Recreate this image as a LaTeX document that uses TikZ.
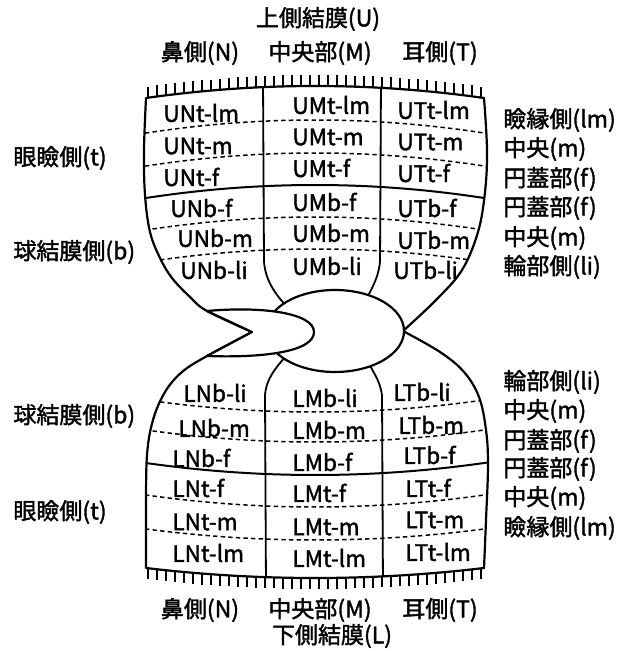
\documentclass[tikz,border=0pt]{standalone}
\usepackage{fontspec}
\setmainfont{Noto Sans CJK JP}[FakeBold=1.6]
\usetikzlibrary{shapes.geometric}
\begin{document}
\begin{tikzpicture}[x=0.5pt,y=-0.5pt,
  rim/.style={line width=1.1pt,line join=round},
  fold/.style={line width=1pt},
  seam/.style={line width=0.75pt,dash pattern=on 2.2pt off 1.6pt},
  divider/.style={line width=0.9pt},
  hair/.style={line width=0.6pt},
  cell/.style={anchor=west,inner sep=0pt,font=\fontsize{11.3pt}{13pt}\selectfont},
  side/.style={anchor=west,inner sep=0pt,font=\fontsize{11.5pt}{13pt}\selectfont},
  head/.style={inner sep=0pt,font=\fontsize{11.5pt}{13pt}\selectfont}]
\useasboundingbox[fill=white] (0,0) rectangle (638,651);

% outlines of the upper and lower conjunctival sacs
\def\upperrim{plot[domain=146:484,samples=60] (\x,{86+12*((\x-315)/169)^2})
  -- plot[smooth,tension=0.6] coordinates {(484,98) (487,150) (485,192) (478,232) (462,270) (436,300) (403,331)}
  -- plot[smooth,tension=0.6] coordinates {(252,332) (207,311) (190,297) (172,278) (160,258) (150,232) (145,195) (144,150) (146,98)}
  -- cycle}
\def\lowerrim{plot[smooth,tension=0.6] coordinates {(252,332) (207,356) (182,372) (165,392) (153,420) (147,455) (146,510) (146,568)}
  -- plot[domain=146:484,samples=60] (\x,{578-10*((\x-315)/169)^2})
  -- plot[smooth,tension=0.6] coordinates {(484,568) (486,520) (488,465) (486,430) (479,397) (464,372) (440,352) (403,331)}
  -- cycle}

% upper zones
\begin{scope}
  \clip \upperrim;
  \draw[seam] plot[domain=130:500,samples=40] (\x,{120+13*((\x-315)/169)^2});
  \draw[seam] plot[domain=130:500,samples=40] (\x,{153+13*((\x-315)/169)^2});
  \draw[fold] plot[domain=130:500,samples=40] (\x,{185+13*((\x-315)/169)^2});
  \draw[seam] plot[domain=130:500,samples=40] (\x,{217+13*((\x-315)/169)^2});
  \draw[seam] plot[domain=130:500,samples=40] (\x,{249+13*((\x-315)/169)^2});
  \draw[divider] (263,80) -- (264,262) .. controls (266,285) and (280,300) .. (295,315);
  \draw[divider] (381,80) -- (380,262) .. controls (378,280) and (370,292) .. (360,310);
\end{scope}
\draw[rim] \upperrim;

% lower zones
\begin{scope}
  \clip \lowerrim;
  \draw[seam] plot[domain=130:500,samples=40] (\x,{412-12*((\x-315)/169)^2});
  \draw[seam] plot[domain=130:500,samples=40] (\x,{442-12*((\x-315)/169)^2});
  \draw[fold] plot[domain=130:500,samples=40] (\x,{475-12*((\x-315)/169)^2});
  \draw[seam] plot[domain=130:500,samples=40] (\x,{507-12*((\x-315)/169)^2});
  \draw[seam] plot[domain=130:500,samples=40] (\x,{540-11*((\x-315)/169)^2});
  \draw[divider] (266,590) -- (265,395) .. controls (266,380) and (275,367) .. (292,350);
  \draw[divider] (383,590) -- (382,395) .. controls (380,380) and (372,370) .. (362,352);
\end{scope}
\draw[rim] \lowerrim;

% lid margin hatching
\foreach \t in {148,157,...,481}
  \draw[hair] (\t,{86+12*((\t-315)/169)^2}) -- ++(0,-11);
\foreach \t in {148,157,...,481}
  \draw[hair] (\t,{578-10*((\t-315)/169)^2}) -- ++(0,11);

% cornea and caruncle
\node[rim,draw,fill=white,ellipse,minimum width=69pt,minimum height=41pt,inner sep=0pt] (cornea) at (335,331) {};
\draw[rim,fill=white] (207,311) .. controls (262,306) and (314,313) .. (314,332)
  .. controls (314,352) and (262,358) .. (207,356) -- (252,332) -- cycle;

% upper zone labels
\node[cell] (UNtlm) at (163,113) {UNt-lm};
\node[cell] (UNtm)  at (163,146) {UNt-m};
\node[cell] (UNtf)  at (163,177) {UNt-f};
\node[cell] (UNbf)  at (170,208) {UNb-f};
\node[cell] (UNbm)  at (177,238) {UNb-m};
\node[cell] (UNbli) at (180,270) {UNb-li};
\node[cell] (UMtlm) at (292,105) {UMt-lm};
\node[cell] (UMtm)  at (292,137) {UMt-m};
\node[cell] (UMtf)  at (292,168) {UMt-f};
\node[cell] (UMbf)  at (292,202) {UMb-f};
\node[cell] (UMbm)  at (292,233) {UMb-m};
\node[cell] (UMbli) at (292,266) {UMb-li};
\node[cell] (UTtlm) at (397,110) {UTt-lm};
\node[cell] (UTtm)  at (397,142) {UTt-m};
\node[cell] (UTtf)  at (397,173) {UTt-f};
\node[cell] (UTbf)  at (397,208) {UTb-f};
\node[cell] (UTbm)  at (397,240) {UTb-m};
\node[cell] (UTbli) at (393,270) {UTb-li};

% lower zone labels
\node[cell] (LNbli) at (183,393) {LNb-li};
\node[cell] (LNbm)  at (178,428) {LNb-m};
\node[cell] (LNbf)  at (172,458) {LNb-f};
\node[cell] (LNtf)  at (172,488) {LNt-f};
\node[cell] (LNtm)  at (172,522) {LNt-m};
\node[cell] (LNtlm) at (172,553) {LNt-lm};
\node[cell] (LMbli) at (292,398) {LMb-li};
\node[cell] (LMbm)  at (292,430) {LMb-m};
\node[cell] (LMbf)  at (292,462) {LMb-f};
\node[cell] (LMtf)  at (292,493) {LMt-f};
\node[cell] (LMtm)  at (292,527) {LMt-m};
\node[cell] (LMtlm) at (292,558) {LMt-lm};
\node[cell] (LTbli) at (393,392) {LTb-li};
\node[cell] (LTbm)  at (398,425) {LTb-m};
\node[cell] (LTbf)  at (403,455) {LTb-f};
\node[cell] (LTtf)  at (405,488) {LTt-f};
\node[cell] (LTtm)  at (405,520) {LTt-m};
\node[cell] (LTtlm) at (405,552) {LTt-lm};

% left side labels
\node[side] (sideUt) at (13,158) {眼瞼側(t)};
\node[side] (sideUb) at (13,252) {球結膜側(b)};
\node[side] (sideLb) at (13,416) {球結膜側(b)};
\node[side] (sideLt) at (13,512) {眼瞼側(t)};

% right side labels
\node[side] (rU1) at (503,120) {瞼縁側(lm)};
\node[side] (rU2) at (503,149) {中央(m)};
\node[side] (rU3) at (503,179) {円蓋部(f)};
\node[side] (rU4) at (503,208) {円蓋部(f)};
\node[side] (rU5) at (503,238) {中央(m)};
\node[side] (rU6) at (503,267) {輪部側(li)};
\node[side] (rL1) at (503,382) {輪部側(li)};
\node[side] (rL2) at (503,411) {中央(m)};
\node[side] (rL3) at (503,441) {円蓋部(f)};
\node[side] (rL4) at (503,469) {円蓋部(f)};
\node[side] (rL5) at (503,498) {中央(m)};
\node[side] (rL6) at (503,528) {瞼縁側(lm)};

% headings
\node[head] (upper) at (318,19) {上側結膜(U)};
\node[head] (topN)  at (200,53) {鼻側(N)};
\node[head] (topM)  at (320,53) {中央部(M)};
\node[head] (topT)  at (440,53) {耳側(T)};
\node[head] (botN)  at (200,610) {鼻側(N)};
\node[head] (botM)  at (320,610) {中央部(M)};
\node[head] (botT)  at (440,610) {耳側(T)};
\node[head] (lower) at (332,636) {下側結膜(L)};
\end{tikzpicture}
\end{document}
